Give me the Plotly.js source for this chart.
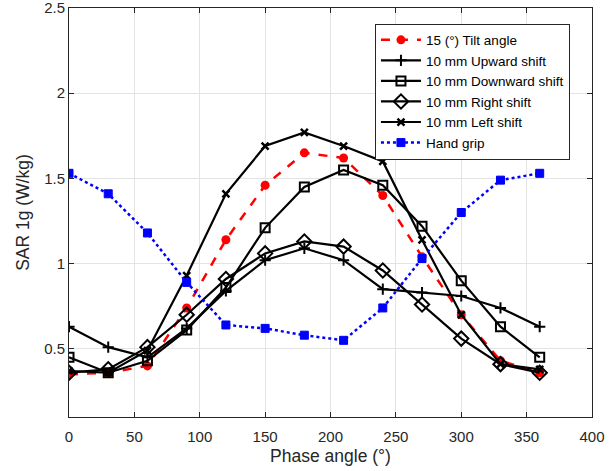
<!DOCTYPE html>
<html>
<head>
<meta charset="utf-8">
<script src="https://cdn.plot.ly/plotly-3.0.1.min.js"></script>
<style>html,body{margin:0;padding:0;background:#fff;}#chart{width:616px;height:471px;}</style>
</head>
<body>
<div id="chart"></div>
<script>
const phase = [0, 30, 60, 90, 120, 150, 180, 210, 240, 270, 300, 330, 360];
const tilt15 = [0.35, 0.36, 0.40, 0.74, 1.14, 1.46, 1.65, 1.62, 1.40, 1.04, 0.70, 0.43, 0.36];
const upShift = [0.63, 0.51, 0.45, 0.62, 0.84, 1.02, 1.09, 1.02, 0.85, 0.83, 0.81, 0.74, 0.63];
const downShift = [0.45, 0.36, 0.43, 0.61, 0.86, 1.21, 1.45, 1.55, 1.46, 1.22, 0.90, 0.63, 0.45];
const rightShift = [0.36, 0.38, 0.51, 0.70, 0.91, 1.06, 1.13, 1.10, 0.96, 0.76, 0.56, 0.41, 0.36];
const leftShift = [0.37, 0.36, 0.49, 0.93, 1.41, 1.69, 1.77, 1.69, 1.60, 1.14, 0.70, 0.41, 0.38];
const handGrip = [1.53, 1.41, 1.18, 0.89, 0.64, 0.62, 0.58, 0.55, 0.74, 1.03, 1.30, 1.49, 1.53];
const names = ["15 (\u00B0) Tilt angle", "10 mm Upward shift", "10 mm Downward shift", "10 mm Right shift", "10 mm Left shift", "Hand grip"];
const xTicks = [0, 50, 100, 150, 200, 250, 300, 350, 400];
const yTicks = [0.5, 1, 1.5, 2, 2.5];
const yTickText = ["0.5", "1", "1.5", "2", "2.5"];

const traces = [
  {x: phase, y: tilt15, name: names[0], mode: "lines+markers",
   line: {color: "#ff0000", width: 2.5, dash: "dash"},
   marker: {symbol: "circle", size: 9, color: "#ff0000"}},
  {x: phase, y: upShift, name: names[1], mode: "lines+markers",
   line: {color: "#000000", width: 2.2},
   marker: {symbol: "cross-thin-open", size: 8, color: "#000", line: {color: "#000", width: 2}}},
  {x: phase, y: downShift, name: names[2], mode: "lines+markers",
   line: {color: "#000000", width: 2.2},
   marker: {symbol: "square-open", size: 9, color: "#000", line: {color: "#000", width: 2}}},
  {x: phase, y: rightShift, name: names[3], mode: "lines+markers",
   line: {color: "#000000", width: 2.2},
   marker: {symbol: "diamond-open", size: 11, color: "#000", line: {color: "#000", width: 2}}},
  {x: phase, y: leftShift, name: names[4], mode: "lines+markers",
   line: {color: "#000000", width: 2.2},
   marker: {symbol: "x-thin-open", size: 7, color: "#000", line: {color: "#000", width: 2.5}}},
  {x: phase, y: handGrip, name: names[5], mode: "lines+markers",
   line: {color: "#0000ff", width: 2.5, dash: "dot"},
   marker: {symbol: "square", size: 8, color: "#0000ff", line: {color: "#0000ff", width: 1}}}
];

const axisCommon = {
  showgrid: true, gridcolor: "#e3e3e3", gridwidth: 1,
  showline: true, linecolor: "#262626", linewidth: 1, mirror: "ticks",
  ticks: "inside", ticklen: 5, tickcolor: "#262626",
  zeroline: false, ticklabeloverflow: "allow",
  tickfont: {family: "Liberation Sans, Arial, sans-serif", size: 15, color: "#262626"}
};

const layout = {
  width: 616, height: 471,
  margin: {l: 69, r: 24, t: 8, b: 54},
  paper_bgcolor: "#fff", plot_bgcolor: "#fff",
  font: {family: "Liberation Sans, Arial, sans-serif", color: "#262626"},
  xaxis: Object.assign({}, axisCommon, {
    range: [0, 400], tickvals: xTicks, ticklabelstandoff: 6,
    title: {text: "Phase angle (\u00B0)", font: {size: 17.5, color: "#262626"}, standoff: 5}
  }),
  yaxis: Object.assign({}, axisCommon, {
    range: [0.1, 2.5001], tickvals: yTicks, ticktext: yTickText,
    title: {text: "SAR 1g (W/kg)", font: {size: 17.5, color: "#262626"}, standoff: 10}
  }),
  legend: {
    x: 0.585, y: 0.962, xanchor: "left", yanchor: "top",
    bgcolor: "#fff", bordercolor: "#262626", borderwidth: 1,
    font: {size: 13.5, color: "#000"}, tracegroupgap: 0, itemwidth: 40
  },
  showlegend: true
};

Plotly.newPlot("chart", traces, layout, {displayModeBar: false, staticPlot: true});
</script>
</body>
</html>
